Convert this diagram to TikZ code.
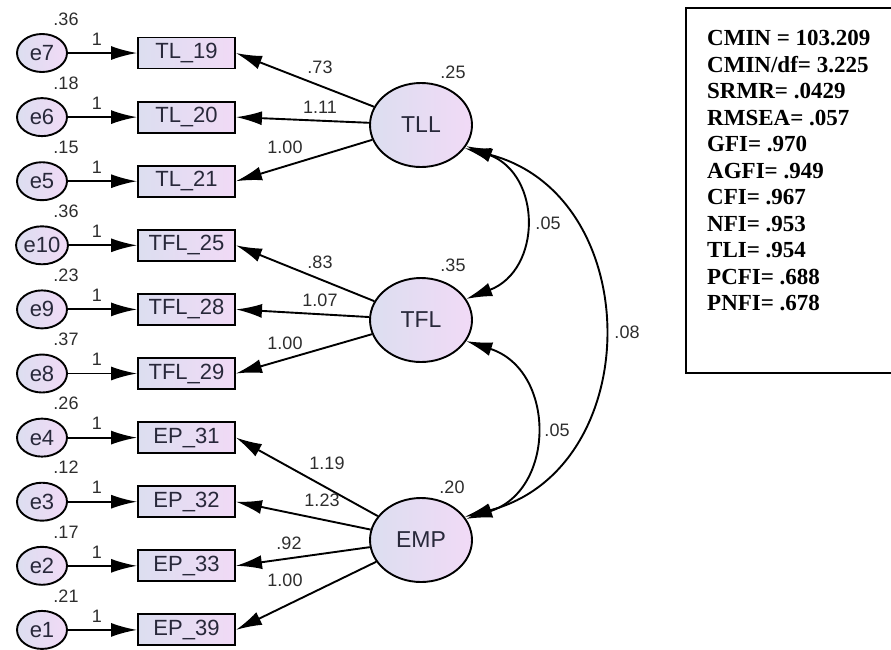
\documentclass[tikz,border=0pt]{standalone}
\usepackage{fontspec}
\setmainfont{Liberation Sans}
\newfontfamily\tnr{Liberation Serif}
\usetikzlibrary{shapes.geometric,arrows.meta}
\definecolor{lavL}{RGB}{220,222,240}
\definecolor{lavR}{RGB}{241,218,246}
\definecolor{txt}{RGB}{40,40,58}
\definecolor{lbl}{RGB}{45,45,45}
\begin{document}
\begin{tikzpicture}[x=1pt,y=-1pt,
  lav/.style={left color=lavL, right color=lavR},
  errv/.style={ellipse, draw, line width=1.9pt, lav, minimum width=50pt, minimum height=38pt, inner sep=0pt, text=txt, font=\fontsize{22}{22}\selectfont},
  latv/.style={ellipse, draw, line width=1.9pt, lav, minimum width=102pt, minimum height=84pt, inner sep=0pt, text=txt, font=\fontsize{23}{23}\selectfont},
  obsv/.style={rectangle, draw, line width=1.9pt, lav, minimum width=97pt, minimum height=31pt, inner sep=0pt, text=txt, font=\fontsize{22}{22}\selectfont},
  num/.style={inner sep=0pt, text=lbl, font=\fontsize{18}{18}\selectfont},
  path/.style={line width=1.9pt, -{Latex[length=26pt,width=14pt]}},
  cov/.style={line width=1.9pt, {Latex[length=26pt,width=14pt]}-{Latex[length=26pt,width=14pt]}},
  fitline/.style={anchor=base west, inner sep=0pt, font=\tnr\bfseries\fontsize{23}{23}\selectfont}
]
\useasboundingbox (0,0) rectangle (891,649);

% latent variables
\node[latv] (TLL) at (421,125) {TLL};
\node[latv] (TFL) at (421,320) {TFL};
\node[latv] (EMP) at (421,540) {EMP};
\node[num] (vTLL) at (453,72) {.25};
\node[num] (vTFL) at (453,265) {.35};
\node[num] (vEMP) at (452,487) {.20};

% indicators, error terms
\foreach \e/\o/\lat/\v/\i in {e7/TL\_19/TLL/.36/0, e6/TL\_20/TLL/.18/1, e5/TL\_21/TLL/.15/2,
  e10/TFL\_25/TFL/.36/3, e9/TFL\_28/TFL/.23/4, e8/TFL\_29/TFL/.37/5,
  e4/EP\_31/EMP/.26/6, e3/EP\_32/EMP/.12/7, e2/EP\_33/EMP/.17/8, e1/EP\_39/EMP/.21/9} {
  \pgfmathsetmacro{\yy}{53+64.1*\i}
  \node[errv] (\e) at (42,\yy) {\e};
  \node[obsv] (o\i) at (186.5,\yy) {\o};
  \node[num] (v\e) at (66,\yy-34) {\v};
  \node[num] (w\e) at (97,\yy-14) {1};
  \draw[path] (\e) -- (o\i);
  \draw[path] (\lat) -- (o\i.east);
}

% loadings
\node[num] (l1) at (320,67) {.73};
\node[num] (l2) at (320,107) {1.11};
\node[num] (l3) at (285,147) {1.00};
\node[num] (l4) at (320,262) {.83};
\node[num] (l5) at (320,300) {1.07};
\node[num] (l6) at (285,343) {1.00};
\node[num] (l7) at (327,463) {1.19};
\node[num] (l8) at (322,500) {1.23};
\node[num] (l9) at (289,543) {.92};
\node[num] (l10) at (285,580) {1.00};

% covariances
\draw[cov] (TLL.-25) .. controls (542,175) and (542,270) .. (TFL.25);
\draw[cov] (TFL.-25) .. controls (556,370) and (556,490) .. (EMP.25);
\draw[cov] (TLL.-28) .. controls (647,195) and (647,470) .. (EMP.28);
\node[num] (c1) at (548,223) {.05};
\node[num] (c2) at (557,430) {.05};
\node[num] (c3) at (627,332) {.08};

% fit box
\draw[line width=1.6pt] (686,8) rectangle (896,373);
\foreach \t [count=\k from 0] in {CMIN = 103.209, CMIN/df= 3.225, SRMR= .0429, RMSEA= .057, GFI= .970, AGFI= .949, CFI= .967, NFI= .953, TLI= .954, PCFI= .688, PNFI= .678} {
  \node[fitline] (f\k) at (707,45.5+26.5*\k) {\t};
}
\end{tikzpicture}
\end{document}
